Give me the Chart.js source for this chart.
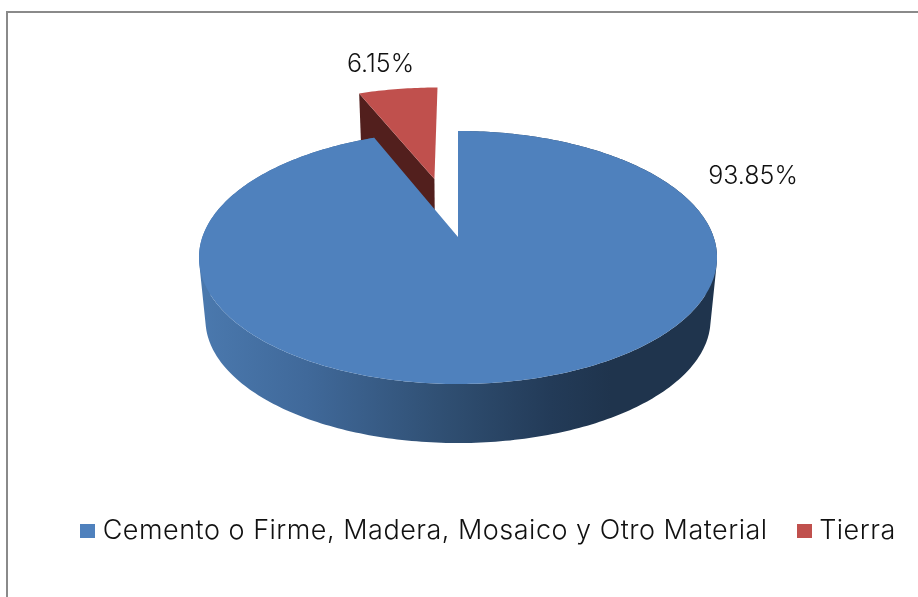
<!DOCTYPE html>
<html>
<head>
<meta charset="utf-8">
<title>Piso de la vivienda</title>
<script src="https://cdn.jsdelivr.net/npm/chart.js@4/dist/chart.umd.min.js"></script>
<style>
    html, body { margin: 0; padding: 0; background: #fff; overflow: hidden; }
    #wrap { position: relative; width: 918px; height: 597px; }
    #frame { position: absolute; left: 6px; top: 11px; right: 0; bottom: 0; border-left: 2px solid #8a8a8a; border-top: 2px solid #8a8a8a; }
    #pieChart { position: absolute; left: 0; top: 0; }
</style>
</head>
<body>
<div id="wrap">
    <div id="frame"></div>
    <canvas id="pieChart" width="918" height="597"></canvas>
</div>
<script>
const categories = ['Cemento o Firme, Madera, Mosaico y Otro Material', 'Tierra'];
const shares = [93.85, 6.15];
const sliceColors = ['#4f81bd', '#c0504d'];

// Excel style tilted pie: Chart.js works out the angles, this maps them to the page
const view = { x: 458, y: 237, rx: 255.6, ry: 123.2, tilt: 0.162, depth: 62.7, shrink: 0.975 };
const labelSpots = [[753, 176], [380.5, 64]];
const sideStops = [[0, '#4a78ad'], [0.2, '#40699a'], [0.48, '#2f4e71'], [0.68, '#233b58'], [0.8, '#1f344d'], [1, '#1f344d']];

function project(u, v, low) {
    const w = 1 + view.tilt * v;
    const s = low ? view.shrink : 1;
    return [view.x + view.rx * s * u / w, view.y + (low ? view.depth : 0) - view.ry * s * v / w];
}

function tracePoints(ctx, pts) {
    pts.forEach((p, i) => i ? ctx.lineTo(p[0], p[1]) : ctx.moveTo(p[0], p[1]));
}

// rim and centre of one arc element, in unit circle terms
function sliceShape(arc) {
    const mid = (arc.startAngle + arc.endAngle) / 2;
    const shift = arc.options.offset / arc.outerRadius;
    const du = Math.cos(mid) * shift;
    const dv = -Math.sin(mid) * shift;
    const rim = [];
    const steps = Math.ceil((arc.endAngle - arc.startAngle) * 60);
    for (let i = 0; i <= steps; i++) {
        const a = arc.startAngle + (arc.endAngle - arc.startAngle) * i / steps;
        rim.push([Math.cos(a) + du, -Math.sin(a) + dv]);
    }
    return { rim, centre: [du, dv] };
}

// all quads wound the same way, so one fill has no seams between them
function traceWall(ctx, top, low) {
    for (let k = 0; k < top.length - 1; k++) {
        const quad = [top[k], top[k + 1], low[k + 1], low[k]];
        let area = 0;
        quad.forEach((p, i) => {
            const q = quad[(i + 1) % 4];
            area += p[0] * q[1] - q[0] * p[1];
        });
        if (area < 0) quad.reverse();
        tracePoints(ctx, quad);
        ctx.closePath();
    }
}

const tiltedPie = {
    id: 'tiltedPie',
    beforeLayout(chart) {
        chart.ctx.letterSpacing = '0.5px';
    },
    beforeDraw(chart) {
        chart.ctx.letterSpacing = '0.5px';
    },
    beforeDatasetDraw(chart) {
        const ctx = chart.ctx;
        const arcs = chart.getDatasetMeta(0).data;
        ctx.save();

        // red wedge goes first, the big slice sits in front of it
        [1, 0].forEach(i => {
            const shape = sliceShape(arcs[i]);
            const top = shape.rim.map(p => project(p[0], p[1], false));
            const low = shape.rim.map(p => project(p[0], p[1], true));

            if (i === 0) {
                const side = ctx.createLinearGradient(205, 0, 713, 0);
                sideStops.forEach(s => side.addColorStop(s[0], s[1]));
                ctx.fillStyle = side;
                ctx.beginPath();
                traceWall(ctx, top, low);
                ctx.fill();
            } else {
                // cut face of the pulled out wedge
                ctx.fillStyle = '#521f1d';
                ctx.beginPath();
                tracePoints(ctx, [
                    project(shape.centre[0], shape.centre[1], false),
                    top[0],
                    low[0],
                    project(shape.centre[0], shape.centre[1], true)
                ]);
                ctx.closePath();
                ctx.fill();
            }

            ctx.fillStyle = sliceColors[i];
            ctx.beginPath();
            tracePoints(ctx, [project(shape.centre[0], shape.centre[1], false)].concat(top));
            ctx.closePath();
            ctx.fill();
        });

        ctx.restore();
        return false;
    },
    afterDatasetsDraw(chart) {
        const ctx = chart.ctx;
        ctx.save();
        ctx.letterSpacing = '0px';
        ctx.font = '300 25px Inter';
        ctx.fillStyle = '#111';
        ctx.textAlign = 'center';
        ctx.textBaseline = 'middle';
        shares.forEach((value, i) => {
            ctx.fillText(value.toFixed(2) + '%', labelSpots[i][0], labelSpots[i][1]);
        });
        ctx.restore();
    }
};

// legend swatch as a small canvas, so it can sit closer to the text than Chart.js allows
function swatch(color) {
    const c = document.createElement('canvas');
    c.width = 15;
    c.height = 14;
    const g = c.getContext('2d');
    g.fillStyle = color;
    g.fillRect(0, 0, 15, 14);
    return c;
}

new Chart(document.getElementById('pieChart'), {
    type: 'pie',
    data: {
        labels: categories,
        datasets: [{
            data: shares,
            backgroundColor: sliceColors,
            borderWidth: 0,
            radius: 150,
            offset: [0, 78]
        }]
    },
    options: {
        responsive: false,
        animation: false,
        layout: { padding: { left: 44, right: -20, bottom: 43 } },
        plugins: {
            tooltip: { enabled: false },
            legend: {
                position: 'bottom',
                labels: {
                    usePointStyle: true,
                    pointStyleWidth: 3,
                    padding: 35,
                    color: '#111',
                    font: { family: 'Inter', size: 27, weight: '300' },
                    generateLabels(chart) {
                        const items = Chart.overrides.pie.plugins.legend.labels.generateLabels(chart);
                        items.forEach((item, i) => { item.pointStyle = swatch(sliceColors[i]); });
                        return items;
                    }
                }
            }
        }
    },
    plugins: [tiltedPie]
});
</script>
</body>
</html>
